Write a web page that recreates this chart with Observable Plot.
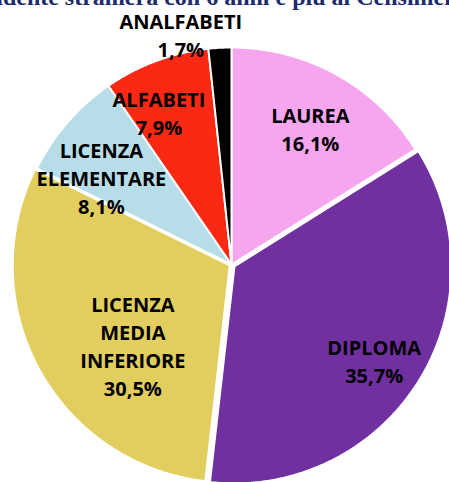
<!DOCTYPE html>
<html><head><meta charset="utf-8">
<script src="https://cdn.jsdelivr.net/npm/d3@7"></script>
<script src="https://cdn.jsdelivr.net/npm/@observablehq/plot@0.6"></script>
<style>
html,body{margin:0;padding:0;background:#fff;}
body{width:449px;height:482px;overflow:hidden;position:relative;}
#chart{position:absolute;left:0;top:0;}
#title{position:absolute;left:-34px;top:-15px;line-height:1;white-space:nowrap;font-family:"Liberation Serif","Times New Roman",serif;font-weight:bold;font-size:24px;color:#1c2a6e;}
</style></head><body>
<div id="chart"></div>
<div id="title">residente straniera con 6 anni e più al Censimento 2011</div>
<script>
// ---- data ----
const categories = ["LAUREA", "DIPLOMA", "LICENZA MEDIA INFERIORE", "LICENZA ELEMENTARE", "ALFABETI", "ANALFABETI"];
const shares = [16.1, 35.7, 30.5, 8.1, 7.9, 1.7];
const shareLabels = ["16,1%", "35,7%", "30,5%", "8,1%", "7,9%", "1,7%"];
const sliceColors = ["#f6a5ef", "#7030a0", "#e2ce5e", "#b7dde8", "#fb2813", "#000000"];

// ---- layout (pixels) ----
const W = 449, H = 482;
const R = 217, CX = 231, CY = 264;
const explodePx = [0, 3.5, 2, 0, 0, 0];
const labelRadius = 0.75;
const labelShift = [[0, 6], [2, 7], [46, 2], [-7, 19], [-16, 0], [-42, -68]];

const pie = d3.pie().sort(null).value(d => d)(shares);

const slicePts = [];
const labelPts = [];
pie.forEach((arc, i) => {
  const mid = (arc.startAngle + arc.endAngle) / 2;
  const ox = Math.sin(mid) * explodePx[i] / R;
  const oy = Math.cos(mid) * explodePx[i] / R;
  const n = Math.max(4, Math.ceil((arc.endAngle - arc.startAngle) / 0.01));
  slicePts.push({cat: categories[i], x: ox, y: oy});
  for (let k = 0; k <= n; k++) {
    const a = arc.startAngle + (arc.endAngle - arc.startAngle) * k / n;
    slicePts.push({cat: categories[i], x: ox + Math.sin(a), y: oy + Math.cos(a)});
  }
  labelPts.push({
    text: categories[i].split(" ").join("\n") + "\n" + shareLabels[i],
    x: ox + labelRadius * Math.sin(mid) + labelShift[i][0] / R,
    y: oy + labelRadius * Math.cos(mid) - labelShift[i][1] / R
  });
});

const chart = Plot.plot({
  width: W, height: H,
  margin: 0,
  x: {domain: [-CX / R, (W - CX) / R], axis: null},
  y: {domain: [-(H - CY) / R, CY / R], axis: null},
  color: {domain: categories, range: sliceColors},
  marks: [
    Plot.line(slicePts, {x: "x", y: "y", z: "cat", fill: "cat", stroke: "white", strokeWidth: 2, curve: "linear-closed", strokeLinejoin: "miter"}),
    Plot.text(labelPts, {x: "x", y: "y", text: "text", fill: "black", fontFamily: "Open Sans", fontWeight: "bold", fontSize: 20, lineHeight: 1.4, lineAnchor: "middle", textAnchor: "middle"})
  ]
});
document.getElementById("chart").appendChild(chart);
</script>
</body></html>
